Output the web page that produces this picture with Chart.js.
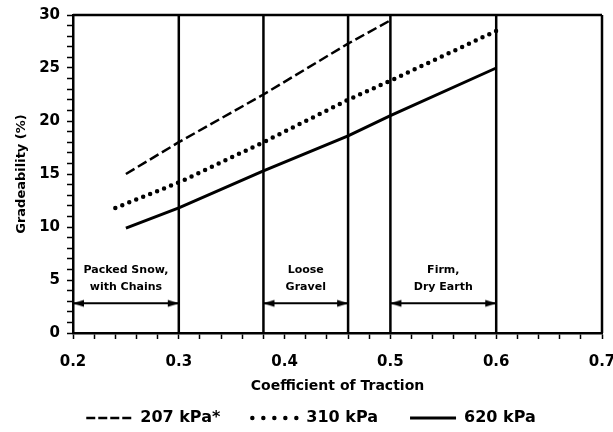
<!DOCTYPE html>
<html>
<head>
<meta charset="utf-8">
<script src="https://cdn.jsdelivr.net/npm/chart.js@4.4.1/dist/chart.umd.min.js"></script>
<style>
  html, body { margin: 0; padding: 0; background: #fff; }
</style>
</head>
<body>
<canvas id="gradeChart" width="613" height="432"></canvas>
<script>
// values
const traction207 = [0.25, 0.30, 0.38, 0.46, 0.50];
const grade207 = [15.0, 18.0, 22.5, 27.3, 29.5];
const traction310 = [0.24, 0.30, 0.38, 0.46, 0.50, 0.60];
const grade310 = [11.8, 14.2, 18.0, 22.0, 23.8, 28.5];
const traction620 = [0.25, 0.30, 0.38, 0.46, 0.50, 0.60];
const grade620 = [9.9, 11.8, 15.3, 18.6, 20.5, 25.0];

const surfaceNames = [["Packed Snow,", "with Chains"], ["Loose", "Gravel"], ["Firm,", "Dry Earth"]];
const surfaceFrom = [0.2, 0.38, 0.5];
const surfaceTo = [0.3, 0.46, 0.6];
const arrowLevel = 2.8;
const dividers = [0.3, 0.38, 0.46, 0.5, 0.6, 0.7];

const xMin = 0.2, xMax = 0.7, yMin = 0, yMax = 30;

Chart.defaults.font.family = "'DejaVu Sans', sans-serif";
Chart.defaults.font.weight = 'bold';
Chart.defaults.color = '#000';

const toPoints = (xs, ys) => xs.map((x, i) => ({ x: x, y: ys[i] }));

function arrowHead(pointsRight) {
  const c = document.createElement('canvas');
  c.width = 26;
  c.height = 10;
  const g = c.getContext('2d');
  g.fillStyle = '#000';
  g.beginPath();
  if (pointsRight) {
    g.moveTo(13, 5); g.lineTo(2, 1.5); g.lineTo(2, 8.5);
  } else {
    g.moveTo(13, 5); g.lineTo(24, 1.5); g.lineTo(24, 8.5);
  }
  g.closePath();
  g.fill();
  return c;
}
const leftHead = arrowHead(false);
const rightHead = arrowHead(true);

const seriesSets = [
  { label: '207 kPa*', data: toPoints(traction207, grade207), borderWidth: 2.5, borderDash: [10, 4], legendDash: [9, 3] },
  { label: '310 kPa', data: toPoints(traction310, grade310), borderWidth: 4.5, borderDash: [0, 7.5], borderCapStyle: 'round', legendDash: [0, 11] },
  { label: '620 kPa', data: toPoints(traction620, grade620), borderWidth: 3, legendDash: [] }
].map(d => Object.assign({ borderColor: '#000', pointRadius: 0, fill: false, tension: 0 }, d));

const frameSets = dividers.map(x => ({
  label: '', data: [{ x: x, y: yMin }, { x: x, y: yMax }],
  borderColor: '#000', borderWidth: 2.5, pointRadius: 0, clip: false
}));
frameSets.push({
  label: '', data: [{ x: xMin, y: yMax }, { x: xMax, y: yMax }],
  borderColor: '#000', borderWidth: 2.5, pointRadius: 0, clip: false
});

const arrowSets = surfaceFrom.map((a, i) => ({
  label: '', data: [{ x: a, y: arrowLevel }, { x: surfaceTo[i], y: arrowLevel }],
  borderColor: '#000', borderWidth: 2, pointRadius: 5,
  pointStyle: [leftHead, rightHead], clip: false
}));

// two-line surface names sitting above each arrow
const surfaceLabels = {
  id: 'surfaceLabels',
  afterDatasetsDraw(chart) {
    const { ctx, scales: { x, y } } = chart;
    const base = y.getPixelForValue(arrowLevel);
    ctx.save();
    ctx.font = "bold 11px 'DejaVu Sans'";
    ctx.fillStyle = '#000';
    ctx.textAlign = 'center';
    ctx.textBaseline = 'middle';
    surfaceNames.forEach((lines, i) => {
      const cx = (x.getPixelForValue(surfaceFrom[i]) + x.getPixelForValue(surfaceTo[i])) / 2;
      lines.forEach((t, j) => ctx.fillText(t, cx, base - 33 + j * 17));
    });
    ctx.restore();
  }
};

new Chart(document.getElementById('gradeChart'), {
  type: 'line',
  data: { datasets: seriesSets.concat(frameSets, arrowSets) },
  options: {
    responsive: false,
    animation: false,
    layout: { padding: { top: 15, right: 11, left: 20, bottom: -4 } },
    plugins: {
      tooltip: { enabled: false },
      legend: {
        position: 'bottom',
        labels: {
          usePointStyle: true,
          pointStyle: 'line',
          pointStyleWidth: 46,
          padding: 32,
          font: { size: 16, weight: 'bold' },
          generateLabels(chart) {
            const items = Chart.defaults.plugins.legend.labels.generateLabels(chart);
            return items.filter(it => it.datasetIndex < seriesSets.length).map(it => {
              const ds = chart.data.datasets[it.datasetIndex];
              it.lineDash = ds.legendDash;
              it.lineCap = ds.borderCapStyle || 'butt';
              it.lineWidth = ds.borderWidth;
              it.strokeStyle = '#000';
              return it;
            });
          }
        }
      }
    },
    scales: {
      x: {
        type: 'linear',
        min: xMin,
        max: xMax,
        afterFit: s => { s.height = 45; s.paddingLeft = 0; s.paddingRight = 11; },
        border: { color: '#000', width: 2.5 },
        grid: { drawOnChartArea: false, tickLength: 6, tickColor: '#000', tickWidth: 1.5 },
        ticks: {
          stepSize: 0.02,
          autoSkip: false,
          maxRotation: 0,
          padding: 14,
          font: { size: 15, weight: 'bold' },
          callback: v => (Math.round(v * 100) % 10 === 0 ? v.toFixed(1) : '')
        },
        title: {
          display: true,
          text: 'Coefficient of Traction',
          font: { size: 14, weight: 'bold' },
          padding: { top: 0, bottom: -17 }
        }
      },
      y: {
        min: yMin,
        max: yMax,
        afterFit: s => { s.width = 53; s.paddingTop = 15; s.paddingBottom = 0; },
        border: { color: '#000', width: 2.5 },
        grid: { drawOnChartArea: false, tickLength: 6, tickColor: '#000', tickWidth: 1.5 },
        ticks: {
          stepSize: 1,
          autoSkip: false,
          padding: 7,
          font: { size: 15, weight: 'bold' },
          callback: v => (v % 5 === 0 ? v : '')
        },
        title: {
          display: true,
          text: 'Gradeability (%)',
          font: { size: 13, weight: 'bold' },
          padding: { top: -6, bottom: 0 }
        }
      }
    }
  },
  plugins: [surfaceLabels]
});
</script>
</body>
</html>
